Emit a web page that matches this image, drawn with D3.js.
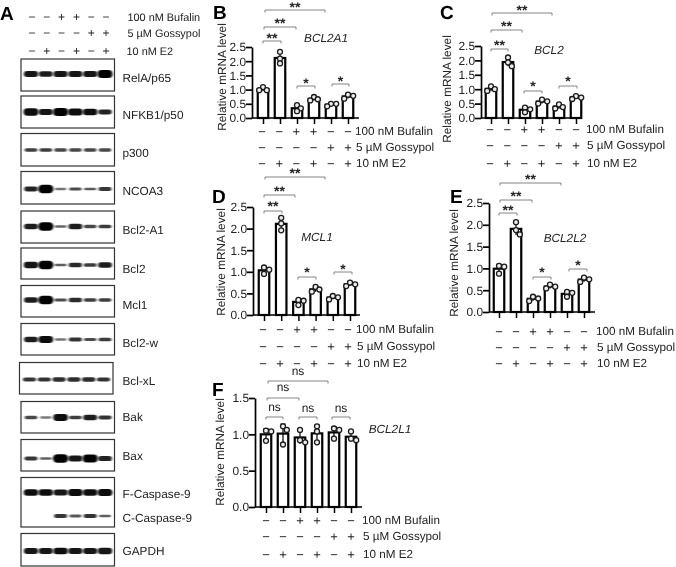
<!DOCTYPE html>
<html><head><meta charset="utf-8">
<script src="https://cdn.jsdelivr.net/npm/d3@7"></script>
<style>
html,body{margin:0;padding:0;background:#fff}
svg{display:block;text-rendering:geometricPrecision}
text{font-family:"Liberation Sans",Arial,sans-serif;fill:#222;text-rendering:geometricPrecision}
</style></head><body>
<svg id="fig" width="676" height="567"></svg>
<script>
// ---------- DATA ----------
const conditions = ["c1","c2","c3","c4","c5","c6"];
const bufalinSigns = ["−","−","+","+","−","−"];
const gossypolSigns = ["−","−","−","−","+","+"];
const e2Signs = ["−","+","−","+","−","+"];
const treatmentLabels = ["100 nM Bufalin","5 µM Gossypol","10 nM E2"];

const blotNames = ["RelA/p65","NFKB1/p50","p300","NCOA3","Bcl2-A1","Bcl2","Mcl1","Bcl2-w","Bcl-xL","Bak","Bax","F-Caspase-9","C-Caspase-9","GAPDH"];
const relA   = [.8,.72,.78,.78,.8,.95];
const nfkb1  = [.92,.8,.95,.9,.85,.68];
const p300   = [.5,.5,.45,.45,.45,.45];
const ncoa3  = [.68,1,.22,.42,.34,.55];
const bcl2a1 = [.72,1,.28,.72,.45,.52];
const bcl2b  = [.82,1,.32,.62,.52,.72];
const mcl1b  = [.72,1,.42,.62,.5,.5];
const bcl2w  = [.72,.88,.22,.58,.42,.52];
const bclxl  = [.55,.58,.6,.6,.62,.58];
const bak    = [.45,.2,.88,.5,.72,.58];
const bax    = [.55,.3,1,.78,.95,.7];
const fCasp  = [.85,.85,.8,.9,.85,.9];
const cCasp  = [0,0,.55,.35,.58,.32];
const gapdh  = [.8,.78,.85,.8,.8,.82];

const bcl2a1Values = [[1.09,.98,.98],[2.33,2.09,1.92],[.45,.24,.34],[.74,.62,.66],[.41,.5,.5],[.82,.68,.78]];
const bcl2Values   = [[1.10,.94,1.0],[2.1,1.93,1.8],[.36,.3,.2],[.64,.58,.5],[.47,.38,.33],[.76,.71,.66]];
const mcl1Values   = [[1.1,1.05,.95],[2.25,2.12,1.96],[.35,.33,.23],[.65,.59,.54],[.44,.41,.36],[.75,.71,.67]];
const bcl2l2Values = [[1.06,1.04,.88],[2.06,1.88,1.78],[.35,.31,.25],[.63,.58,.54],[.46,.44,.35],[.79,.75,.69]];
const bcl2l1Values = [[1.05,1.04,.91],[1.11,1.06,.86],[1.06,.92,.89],[1.11,1.04,.89],[1.08,1.06,.94],[1.04,.94,.92]];
const ticks25 = [0,.5,1,1.5,2,2.5];
const ticks15 = [0,.5,1,1.5];

// ---------- LAYOUT ----------
const svg = d3.select("#fig");
const defs = svg.append("defs");
defs.append("filter").attr("id","soft").attr("x","-5%").attr("y","-5%").attr("width","110%").attr("height","110%")
  .append("feGaussianBlur").attr("stdDeviation",.3);
defs.append("filter").attr("id","band").attr("x","-40%").attr("y","-150%").attr("width","180%").attr("height","400%")
  .append("feGaussianBlur").attr("stdDeviation","1.0 0.7");
const root = svg.append("g").attr("filter","url(#soft)");

function letter(t,x,y){root.append("text").attr("x",x).attr("y",y).attr("font-size",19).attr("font-weight","bold").style("fill","#000").text(t);}

// ---------- PANEL A (blots) ----------
const laneX = d3.scalePoint().domain(conditions).range([31,105]);
const bandRy = d3.scalePow().exponent(2).domain([0,1]).range([1.0,4.2]);
const bandRx = d3.scaleLinear().domain([0,1]).range([5.2,7.6]);
const bandOp = d3.scalePow().exponent(.45).domain([0,1]).range([.08,1]);
const blotBoxes = [
 {x:21,y0:59,y1:91,rows:[{n:0,v:relA,y:74}],lab:[82]},
 {x:21,y0:96,y1:128,rows:[{n:1,v:nfkb1,y:112}],lab:[119]},
 {x:21,y0:133.5,y1:166,rows:[{n:2,v:p300,y:150}],lab:[157]},
 {x:21,y0:171.5,y1:204,rows:[{n:3,v:ncoa3,y:189}],lab:[195]},
 {x:21,y0:211,y1:243,rows:[{n:4,v:bcl2a1,y:226.5}],lab:[234]},
 {x:21,y0:248,y1:279,rows:[{n:5,v:bcl2b,y:265}],lab:[273]},
 {x:21,y0:285.5,y1:317,rows:[{n:6,v:mcl1b,y:300}],lab:[309]},
 {x:21,y0:323.5,y1:355,rows:[{n:7,v:bcl2w,y:339.5}],lab:[347]},
 {x:19.5,y0:362.5,y1:394,rows:[{n:8,v:bclxl,y:379.5}],lab:[385]},
 {x:21,y0:401.5,y1:433,rows:[{n:9,v:bak,y:417.5}],lab:[421]},
 {x:21,y0:439.5,y1:471,rows:[{n:10,v:bax,y:458.5}],lab:[459.5]},
 {x:21,y0:477.5,y1:527,rows:[{n:11,v:fCasp,y:492.5},{n:12,v:cCasp,y:516}],lab:[498,522]},
 {x:21,y0:533.5,y1:566,rows:[{n:13,v:gapdh,y:551}],lab:[554.5]}
];
letter("A",0,20);
const blotG = root.append("g");
blotBoxes.forEach(b=>{
  blotG.append("rect").attr("x",b.x).attr("y",b.y0).attr("width",93.5).attr("height",b.y1-b.y0)
    .attr("fill","#fff").attr("stroke","#333").attr("stroke-width",1.2);
  b.rows.forEach((r,ri)=>{
    blotG.append("g").selectAll("rect").data(r.v.map((v,i)=>({v,c:conditions[i]})).filter(d=>d.v>0)).join("rect")
      .attr("x",d=>laneX(d.c)+(b.x-21)-bandRx(d.v)).attr("width",d=>2*bandRx(d.v))
      .attr("y",d=>r.y-bandRy(d.v)).attr("height",d=>2*bandRy(d.v))
      .attr("rx",d=>bandRy(d.v)).attr("ry",d=>bandRy(d.v))
      .attr("fill","#000").attr("opacity",d=>bandOp(d.v)).attr("filter","url(#band)");
    root.append("text").attr("x",122.5).attr("y",b.lab[ri]).attr("font-size",11.8).text(blotNames[r.n]);
  });
});
const aSignRows=[[bufalinSigns,21],[gossypolSigns,37],[e2Signs,55]];
aSignRows.forEach(([s,y],k)=>{
  root.append("g").selectAll("text").data(s).join("text")
    .attr("x",(d,i)=>laneX(conditions[i])+1).attr("y",y).attr("text-anchor","middle").attr("font-size",12).text(d=>d);
  root.append("text").attr("x",k==2?126.5:127.5).attr("y",y).attr("font-size",10.9).text(treatmentLabels[k]);
});

// ---------- BAR PANELS ----------
function barPanel(o){
  letter(o.letter,o.lx,o.ly);
  const g = root.append("g");
  const y = d3.scaleLinear().domain([0,o.max]).range([o.y0,o.y1]);
  const x = d3.scalePoint().domain(conditions).range([o.x0,o.x1]);
  const xSign = d3.scalePoint().domain(conditions).range([o.s0,o.s1]);
  const ax = g.append("g").attr("transform",`translate(${o.ax},0)`)
    .call(d3.axisLeft(y).tickValues(o.ticks).tickFormat(d3.format(".1f")).tickSize(6).tickSizeOuter(0));
  ax.select(".domain").attr("stroke","#000").attr("stroke-width",1.7);
  ax.selectAll(".tick line").attr("stroke","#000").attr("stroke-width",1.7);
  ax.selectAll("text").attr("font-size",11.9).attr("x",-6).attr("font-family",'"Liberation Sans",Arial,sans-serif').style("fill","#222");
  const bx = g.append("g").attr("transform",`translate(0,${o.y0})`)
    .call(d3.axisBottom(x).tickSize(6).tickSizeOuter(0).tickFormat(""));
  bx.select(".domain").attr("stroke","none");
  bx.selectAll(".tick line").attr("stroke","#000").attr("stroke-width",1.5);
  g.append("line").attr("x1",o.ax).attr("x2",o.end).attr("y1",o.y0).attr("y2",o.y0).attr("stroke","#000").attr("stroke-width",1.7);
  const bw = 10.5;
  g.append("g").selectAll("rect").data(o.data).join("rect")
    .attr("x",(d,i)=>x(conditions[i])-bw/2).attr("width",bw)
    .attr("y",d=>y(d3.mean(d))).attr("height",d=>o.y0-y(d3.mean(d)))
    .attr("fill","#fff").attr("stroke","#000").attr("stroke-width",2.2);
  const eb = g.append("g").selectAll("g").data(o.data).join("g");
  eb.append("line").attr("x1",(d,i)=>x(conditions[i])).attr("x2",(d,i)=>x(conditions[i]))
    .attr("y1",d=>y(d3.mean(d)+d3.deviation(d))).attr("y2",d=>y(d3.mean(d)-d3.deviation(d))).attr("stroke","#000").attr("stroke-width",1.2);
  eb.append("line").attr("x1",(d,i)=>x(conditions[i])-2.5).attr("x2",(d,i)=>x(conditions[i])+2.5)
    .attr("y1",d=>y(d3.mean(d)+d3.deviation(d))).attr("y2",d=>y(d3.mean(d)+d3.deviation(d))).attr("stroke","#000").attr("stroke-width",1.2);
  const dots=[];
  o.data.forEach((vals,i)=>{
    const placed=[];
    [...vals].sort((a,b)=>b-a).forEach(v=>{
      const py=y(v);
      const off=[0,3.8,-3.8,5.2,-5.2].find(dx=>placed.every(p=>Math.hypot(p.dx-dx,p.py-py)>=4.4)) ?? 4;
      placed.push({dx:off,py});
      dots.push({cx:x(conditions[i])+off,py});
    });
  });
  g.append("g").selectAll("circle").data(dots).join("circle")
    .attr("cx",d=>d.cx).attr("cy",d=>d.py).attr("r",2.5)
    .attr("fill","#eee").attr("stroke","#1a1a1a").attr("stroke-width",1.3);
  g.append("text").attr("transform",`translate(${o.tx},${o.ty}) rotate(-90)`).attr("text-anchor","middle")
    .attr("dy",".35em").attr("font-size",11.8).text("Relative mRNA level");
  g.append("text").attr("x",o.gx).attr("y",o.gy).attr("dy",".35em").attr("text-anchor","middle")
    .attr("font-size",11.8).attr("font-style","italic").text(o.gene);
  o.br.forEach(b=>{
    const bg=g.append("g");
    bg.append("path").attr("d",d3.line()([[b[0],b[2]+2.5],[b[0],b[2]],[b[1],b[2]],[b[1],b[2]+2.5]]))
      .attr("fill","none").attr("stroke","#777").attr("stroke-width",.9);
    bg.append("text").attr("x",(b[0]+b[1])/2).attr("y",b[3]).attr("text-anchor","middle")
      .attr("font-size",b[4]=="ns"?12:14).attr("font-weight",b[4]=="ns"?"normal":"bold").attr("dy",b[4]=="ns"?".3em":".55em").text(b[4]);
  });
  [bufalinSigns,gossypolSigns,e2Signs].forEach((s,k)=>{
    g.append("g").selectAll("text").data(s).join("text")
      .attr("x",(d,i)=>xSign(conditions[i])).attr("y",o.rows[k]).attr("dy",".35em")
      .attr("text-anchor","middle").attr("font-size",13).text(d=>d);
    g.append("text").attr("x",o.labx+(k==0?0:1)).attr("y",o.rows[k]).attr("dy",".35em").attr("font-size",11.7).text(treatmentLabels[k]);
  });
}
barPanel({letter:"B",lx:213,ly:19,data:bcl2a1Values,max:2.5,ticks:ticks25,y0:118,y1:47,ax:252,end:359,x0:263,x1:348,s0:262,s1:348,
  tx:222,ty:77,gene:"BCL2A1",gx:326,gy:38,rows:[131,147,163],labx:355,
  br:[[263,281,41,35,"**"],[264,296,27,20,"**"],[265,325,10,4,"**"],[297,315,86,80,"*"],[332,349,84,78,"*"]]});
barPanel({letter:"C",lx:440,ly:19,data:bcl2Values,max:2.5,ticks:ticks25,y0:118,y1:46,ax:481,end:582,x0:491,x1:576,s0:490,s1:576,
  tx:447,ty:89,gene:"BCL2",gx:549,gy:50,rows:[129,145,163],labx:586,
  br:[[491,508,49,42,"**"],[491,522,30,23,"**"],[492,552,13,7,"**"],[524,542,91,83,"*"],[559,577,86,78,"*"]]});
barPanel({letter:"D",lx:212,ly:203,data:mcl1Values,max:2.5,ticks:ticks25,y0:315,y1:207,ax:253,end:360,x0:264,x1:350,s0:263,s1:348,
  tx:221,ty:262,gene:"MCL1",gx:317,gy:237,rows:[329,346,363],labx:356,
  br:[[264,282,211,203,"**"],[264,295,195,188,"**"],[265,325,177,170,"**"],[298,316,277,269,"*"],[334,352,272,266,"*"]]});
barPanel({letter:"E",lx:450,ly:203,data:bcl2l2Values,max:2.5,ticks:ticks25,y0:312,y1:203,ax:489,end:595,x0:499,x1:584,s0:499,s1:584,
  tx:454,ty:263,gene:"BCL2L2",gx:565,gy:238,rows:[331,347,363],labx:596,
  br:[[499,517,213,207,"**"],[500,532,200,193,"**"],[500,561,183,176,"**"],[533,551,277,269,"*"],[569,587,269,262,"*"]]});
barPanel({letter:"F",lx:212,ly:396,data:bcl2l1Values,max:1.5,ticks:ticks15,y0:507,y1:398,ax:255,end:362,x0:266,x1:351,s0:266,s1:351,
  tx:220,ty:452,gene:"BCL2L1",gx:390,gy:429,rows:[520,536,554],labx:362,
  br:[[266,283,417,407,"ns"],[299,317,417,408,"ns"],[332,350,417,408,"ns"],[267,299,398,387,"ns"],[268,328,381,371,"ns"]]});
</script>
</body></html>
